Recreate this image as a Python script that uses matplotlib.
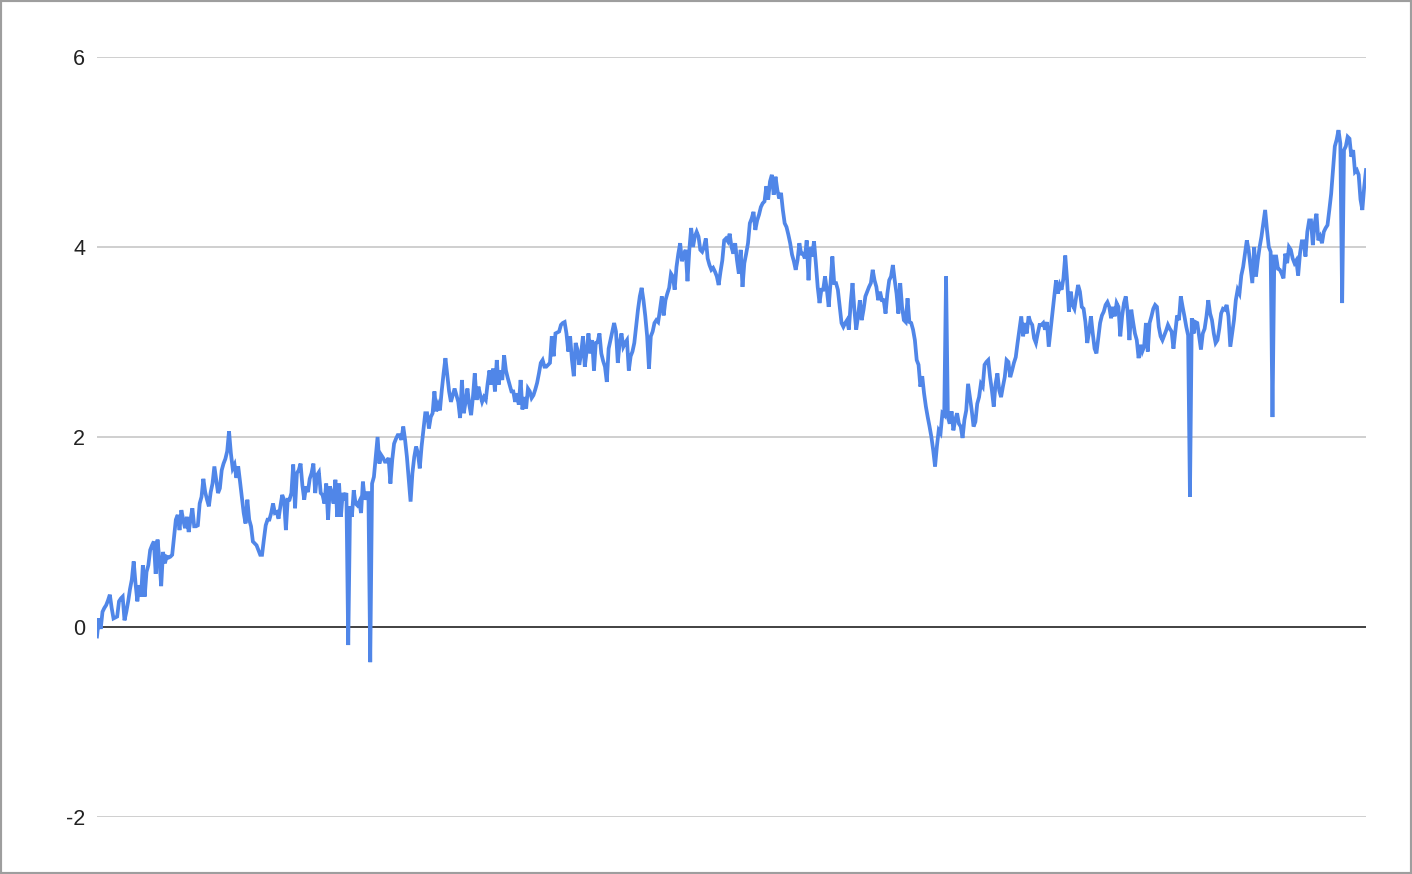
import numpy as np
import matplotlib
matplotlib.use("Agg")
import matplotlib.pyplot as plt
from matplotlib.patches import Rectangle

# series values, read left to right in six stretches
seg1 = [-0.10, 0.09, -0.02, 0.16, 0.20, 0.23, 0.28, 0.34, 0.20, 0.09, 0.10, 0.11, 0.27, 0.30, 0.32,
        0.07, 0.16, 0.27, 0.40, 0.50, 0.69, 0.46, 0.27, 0.44, 0.32, 0.65, 0.32, 0.58, 0.65, 0.81,
        0.86, 0.90, 0.56, 0.92, 0.71, 0.43, 0.79, 0.67, 0.74, 0.73, 0.74, 0.76, 0.95, 1.13, 1.18,
        1.02, 1.23, 1.13, 1.04, 1.16, 1.00, 1.13, 1.25, 1.06, 1.06, 1.07, 1.30, 1.37, 1.56, 1.42,
        1.34, 1.27, 1.42, 1.51, 1.69, 1.55, 1.41, 1.46, 1.65, 1.72, 1.77, 1.85, 2.06, 1.83, 1.67,
        1.71, 1.57, 1.69, 1.53, 1.36, 1.20, 1.09, 1.34, 1.13, 1.06, 0.90, 0.88, 0.86, 0.81, 0.76,
        0.76, 0.92, 1.07, 1.13, 1.13, 1.20, 1.30, 1.20, 1.21, 1.14, 1.27, 1.39, 1.34, 1.02, 1.34,
        1.34, 1.41, 1.71, 1.25, 1.62, 1.65, 1.72, 1.49, 1.34, 1.48, 1.42, 1.56]
seg2 = [1.62, 1.72, 1.41, 1.60, 1.63, 1.41, 1.39, 1.30, 1.51, 1.13, 1.48, 1.41, 1.30, 1.55, 1.16,
        1.51, 1.16, 1.41, 1.37, 1.41, -0.19, 1.27, 1.16, 1.44, 1.30, 1.28, 1.32, 1.20, 1.53, 1.34,
        1.41, 1.41, -0.37, 1.51, 1.58, 1.79, 2.00, 1.72, 1.81, 1.78, 1.74, 1.74, 1.78, 1.51, 1.76,
        1.93, 1.98, 2.02, 2.02, 1.97, 2.11, 1.97, 1.79, 1.55, 1.32, 1.62, 1.79, 1.90, 1.83, 1.67,
        1.90, 2.07, 2.25, 2.25, 2.09, 2.21, 2.25, 2.48, 2.27, 2.34, 2.28, 2.49, 2.67, 2.83, 2.65,
        2.48, 2.37, 2.44, 2.51, 2.44, 2.37, 2.20, 2.60, 2.25, 2.37, 2.51, 2.34, 2.23, 2.42, 2.67,
        2.39, 2.53, 2.44, 2.37, 2.42, 2.39, 2.56, 2.70, 2.55, 2.72, 2.48, 2.81, 2.55, 2.70, 2.60,
        2.86, 2.70, 2.62, 2.55, 2.48, 2.48, 2.37]
seg3 = [2.46, 2.34, 2.60, 2.29, 2.42, 2.30, 2.51, 2.48, 2.41, 2.44, 2.50, 2.57, 2.67, 2.78, 2.81,
        2.74, 2.74, 2.76, 2.78, 3.06, 2.85, 3.09, 3.10, 3.11, 3.18, 3.20, 3.21, 3.09, 2.90, 3.06,
        2.81, 2.64, 2.99, 2.92, 2.76, 2.88, 3.06, 2.74, 2.90, 3.09, 2.88, 3.02, 2.70, 2.99, 3.00,
        3.09, 2.88, 2.80, 2.74, 2.58, 2.93, 3.02, 3.11, 3.20, 3.11, 2.78, 2.99, 3.09, 2.95, 2.99,
        3.02, 2.70, 2.85, 2.90, 2.99, 3.16, 3.34, 3.48, 3.57, 3.44, 3.27, 3.06, 2.72, 3.06, 3.11,
        3.20, 3.23, 3.21, 3.34, 3.48, 3.28, 3.44, 3.51, 3.57, 3.72, 3.69, 3.55, 3.79, 3.93, 4.04,
        3.85, 3.92, 3.97, 3.64, 3.97, 4.20, 4.00, 4.11, 4.16, 4.11, 3.97, 3.95, 4.00, 4.09, 3.88,
        3.81, 3.76, 3.78, 3.74, 3.69, 3.60, 3.74]
seg4 = [3.86, 4.07, 4.09, 4.06, 4.14, 4.00, 3.93, 4.04, 3.86, 3.72, 3.97, 3.58, 3.83, 3.93, 4.04,
        4.25, 4.30, 4.37, 4.18, 4.28, 4.34, 4.42, 4.46, 4.48, 4.64, 4.50, 4.69, 4.76, 4.55, 4.74,
        4.60, 4.51, 4.57, 4.39, 4.25, 4.21, 4.13, 4.04, 3.92, 3.85, 3.76, 3.86, 4.04, 3.93, 3.93,
        3.88, 4.07, 3.65, 4.00, 3.90, 4.06, 3.83, 3.58, 3.41, 3.55, 3.55, 3.69, 3.55, 3.37, 3.62,
        3.90, 3.62, 3.62, 3.55, 3.37, 3.20, 3.16, 3.20, 3.23, 3.13, 3.41, 3.62, 3.34, 3.13, 3.27,
        3.44, 3.23, 3.34, 3.48, 3.53, 3.58, 3.62, 3.76, 3.65, 3.58, 3.44, 3.53, 3.44, 3.44, 3.30,
        3.51, 3.65, 3.69, 3.81, 3.65, 3.51, 3.30, 3.62, 3.37, 3.23, 3.21, 3.46, 3.21, 3.20, 3.13,
        3.02, 2.81, 2.76, 2.53, 2.64, 2.46, 2.32, 2.21, 2.11, 2.00, 1.86, 1.69, 1.90, 2.07, 2.04,
        2.25, 2.23]
seg5 = [3.69, 2.21, 2.14, 2.27, 2.07, 2.18, 2.25, 2.14, 2.11, 1.99, 2.18, 2.28, 2.56, 2.42, 2.28,
        2.11, 2.16, 2.35, 2.42, 2.56, 2.53, 2.76, 2.79, 2.81, 2.63, 2.49, 2.32, 2.56, 2.67, 2.49,
        2.42, 2.53, 2.63, 2.81, 2.79, 2.63, 2.70, 2.78, 2.84, 2.99, 3.13, 3.27, 3.06, 3.20, 3.09,
        3.27, 3.21, 3.18, 3.04, 2.99, 3.09, 3.18, 3.18, 3.20, 3.13, 3.21, 2.95, 3.13, 3.30, 3.48,
        3.65, 3.51, 3.60, 3.55, 3.67, 3.91, 3.65, 3.32, 3.53, 3.39, 3.35, 3.48, 3.60, 3.53, 3.37,
        3.35, 3.21, 2.99, 3.11, 3.27, 3.09, 2.93, 2.88, 3.04, 3.20, 3.28, 3.32, 3.39, 3.42, 3.37,
        3.25, 3.37, 3.27, 3.41, 3.37, 3.06, 3.27, 3.41, 3.48, 3.32, 3.02, 3.34, 3.21, 3.09, 3.02,
        2.83, 2.97, 2.90, 2.95, 3.20, 2.90, 3.20, 3.27, 3.35, 3.39]
seg6 = [3.37, 3.16, 3.06, 3.02, 3.07, 3.12, 3.18, 3.14, 3.11, 2.93, 3.11, 3.28, 3.23, 3.48, 3.37,
        3.27, 3.16, 3.07, 1.37, 3.25, 3.09, 3.21, 3.20, 3.06, 2.92, 3.09, 3.14, 3.27, 3.44, 3.30,
        3.23, 3.09, 2.99, 3.02, 3.14, 3.30, 3.35, 3.34, 3.39, 3.27, 2.95, 3.09, 3.23, 3.44, 3.55,
        3.51, 3.70, 3.79, 3.93, 4.07, 3.97, 3.79, 3.62, 4.00, 3.69, 3.86, 4.00, 4.11, 4.25, 4.39,
        4.18, 4.00, 3.95, 2.21, 3.90, 3.90, 3.77, 3.76, 3.72, 3.67, 3.93, 3.83, 4.00, 3.97, 3.88,
        3.83, 3.86, 3.70, 3.93, 4.06, 4.06, 3.90, 4.16, 4.28, 4.28, 4.02, 4.25, 4.35, 4.07, 4.11,
        4.04, 4.16, 4.20, 4.23, 4.39, 4.56, 4.81, 5.06, 5.13, 5.23, 5.09, 3.41, 5.02, 5.06, 5.16,
        5.14, 4.95, 5.02, 4.79, 4.81, 4.76, 4.50, 4.39, 4.63, 4.81]

y_ticks = [-2, 0, 2, 4, 6]

values = np.array(seg1 + seg2 + seg3 + seg4 + seg5 + seg6)
x = np.arange(len(values))

fig = plt.figure(figsize=(14.12, 8.74), dpi=100)
ax = fig.add_axes([97 / 1412, 57 / 874, 1269 / 1412, 760 / 874])

ax.plot(x, values, color="#5086E8", linewidth=2.7, solid_joinstyle="miter", zorder=3)

ax.set_xlim(0, len(values) - 1)
ax.set_ylim(-2, 6)
ax.set_yticks(y_ticks)
ax.set_yticklabels([str(t) for t in y_ticks], fontfamily="Liberation Sans", fontsize=15.5)
ax.set_xticks([])
ax.tick_params(axis="y", length=0, pad=8.5, colors="#222222")
for sp in ax.spines.values():
    sp.set_visible(False)
for t in y_ticks:
    if t == 0:
        ax.axhline(t, color="#333333", linewidth=1.3, zorder=2)
    else:
        ax.axhline(t, color="#cccccc", linewidth=1.3, zorder=1)

# grey frame around the whole picture
fig.patches.append(Rectangle((0, 0), 1, 1, transform=fig.transFigure, fill=False,
                             edgecolor="#9e9e9e", linewidth=3))

plt.savefig("out.png", dpi=100)
plt.close()
